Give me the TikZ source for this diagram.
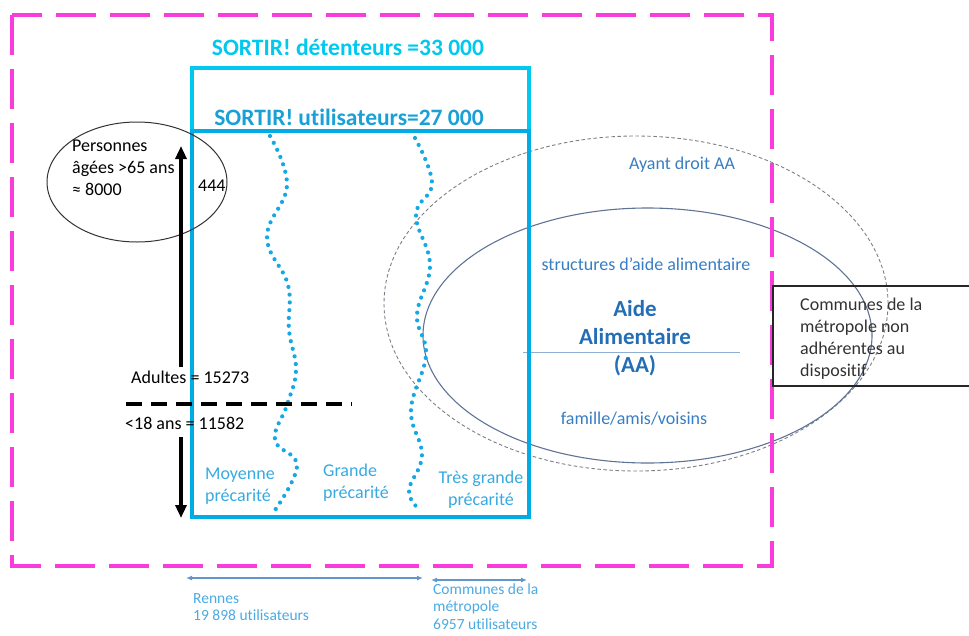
\documentclass[tikz,border=0pt]{standalone}
\usepackage{fontspec}
\setmainfont{Carlito}[Ligatures={NoCommon}]
\usetikzlibrary{arrows.meta}
\definecolor{mag}{RGB}{250,60,220}
\definecolor{cyanA}{RGB}{0,200,238}
\definecolor{cyanB}{RGB}{0,172,230}
\definecolor{utit}{RGB}{25,160,215}
\definecolor{dotc}{RGB}{20,168,228}
\definecolor{labc}{RGB}{55,170,225}
\definecolor{ellt}{RGB}{55,125,195}
\definecolor{aide}{RGB}{35,110,180}
\definecolor{elsolid}{RGB}{95,115,150}
\definecolor{eldash}{RGB}{125,125,135}
\definecolor{hline}{RGB}{140,175,210}
\definecolor{barr}{RGB}{95,150,205}
\definecolor{botc}{RGB}{75,170,225}
\definecolor{boxt}{RGB}{50,50,50}
\begin{document}
\begin{tikzpicture}[x=1pt,y=-1pt,
  txt/.style={inner sep=0pt, font=\fontsize{18}{22}\selectfont},
  ttl/.style={inner sep=0pt, font=\fontsize{23.5}{28}\selectfont\bfseries},
  aidet/.style={inner sep=0pt, font=\fontsize{23}{28}\selectfont\bfseries, text=aide, align=center},
  small/.style={inner sep=0pt, font=\fontsize{15.5}{17.5}\selectfont, text=botc, align=left, anchor=west},
  dotline/.style={dotc, line width=4.2pt, line cap=round, dash pattern=on 0pt off 7.8pt},
  blkarrow/.style={black, line width=3.5pt, -{Triangle[length=13pt,width=11pt]}},
  dblarrow/.style={barr, line width=1.3pt, {Latex[length=6pt,width=5pt]}-{Latex[length=6pt,width=5pt]}}]
\useasboundingbox (0,0) rectangle (969,635);

% ellipses
\draw[eldash, line width=0.9pt, dash pattern=on 3.5pt off 2.5pt] (636,303.5) ellipse [x radius=252pt, y radius=167.5pt];
\draw[elsolid, line width=1.1pt] (647.5,335.5) ellipse [x radius=224.5pt, y radius=127.5pt];
\coordinate (hl1) at (523,352.5);
\coordinate (hl2) at (740,352.5);
\draw[hline, line width=1.2pt] (hl1) -- (hl2);

% magenta dashed frame
\draw[mag, line width=4pt, dash pattern=on 40pt off 14pt] (12,15) rectangle (772,566);

% blue rectangles
\draw[cyanA, line width=4.5pt] (192,68) rectangle (529,517);
\draw[cyanB, line width=4.5pt] (192,131) rectangle (529,517);

% dotted wavy lines
\draw[dotline] plot[smooth, tension=0.7] coordinates {(270,136) (287,185) (267,237) (288,285) (289,330) (296,370) (287,405) (275,440) (297,466) (273,513)};
\draw[dotline] plot[smooth, tension=0.7] coordinates {(415,138) (432,183) (416,215) (430,265) (417,315) (426,355) (411,410) (422,455) (409,490) (418,508)};

% personnes ellipse
\draw[black!80, line width=1pt] (137,182) ellipse [x radius=90pt, y radius=60pt];

% black arrows
\coordinate (a1s) at (181,367);
\coordinate (a1e) at (181,146);
\coordinate (a2s) at (181,437);
\coordinate (a2e) at (181,518);
\draw[blkarrow] (a1s) -- (a1e);
\draw[blkarrow] (a2s) -- (a2e);
\coordinate (d1) at (126,404);
\coordinate (d2) at (352,404);
\draw[black, line width=4pt, dash pattern=on 16pt off 9pt] (d1) -- (d2);

% titles
\node[ttl, text=cyanA] (tdet) at (348,47) {SORTIR! détenteurs =33 000};
\node[ttl, text=utit] (tuti) at (349,117) {SORTIR! utilisateurs=27 000};

% left labels
\node[txt, align=left, anchor=west] (pers) at (72,168) {Personnes\\âgées >65 ans\\≈ 8000};
\node[txt, anchor=west] (n444) at (198,186) {444};
\node[txt, anchor=west] (adul) at (131,377) {Adultes = 15273};
\node[txt, anchor=west] (mine) at (125,423) {<18 ans = 11582};

% precarite labels
\node[txt, text=labc, align=left, anchor=west] (moy) at (205,486.5) {Moyenne\\précarité};
\node[txt, text=labc, align=left, anchor=west] (gra) at (323,482.5) {Grande\\précarité};
\node[txt, text=labc, align=center] (tres) at (481,489.5) {Très grande\\précarité};

% ellipse labels
\node[txt, text=ellt] (ayant) at (682,165) {Ayant droit AA};
\node[txt, text=ellt] (struc) at (646,264) {structures d’aide alimentaire};
\node[aidet] (aa) at (635,338) {Aide\\Alimentaire\\(AA)};
\node[txt, text=ellt] (fam) at (634,419) {famille/amis/voisins};

% communes box
\coordinate (b1) at (985,286);
\coordinate (b2) at (773,286);
\coordinate (b3) at (773,386);
\coordinate (b4) at (985,386);
\draw[black!85, line width=1.1pt] (b1) -- (b2) -- (b3) -- (b4);
\node[txt, text=boxt, align=left, anchor=west] (comm) at (800,338.5) {Communes de la\\métropole non\\adhérentes au\\dispositif};

% bottom arrows
\coordinate (r1) at (186,578);
\coordinate (r2) at (423,578);
\coordinate (c1) at (431,580);
\coordinate (c2) at (527,580);
\draw[dblarrow] (r1) -- (r2);
\draw[dblarrow] (c1) -- (c2);
\node[small] (ren) at (193,607) {Rennes\\19 898 utilisateurs};
\node[small] (cmet) at (433,606.5) {Communes de la\\métropole\\6957 utilisateurs};
\end{tikzpicture}
\end{document}
